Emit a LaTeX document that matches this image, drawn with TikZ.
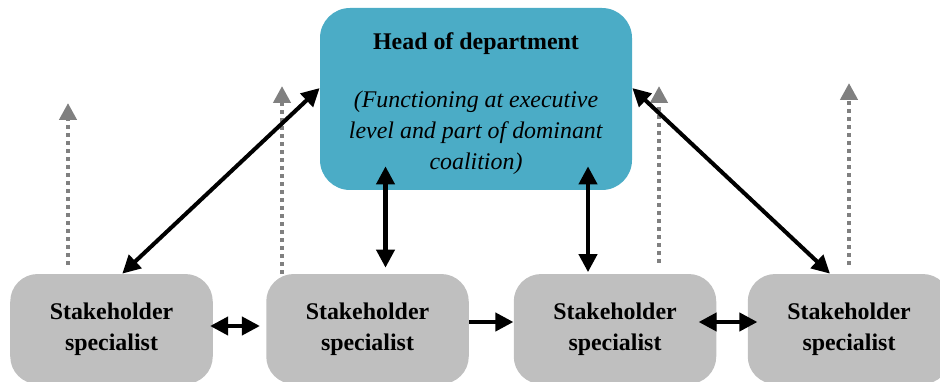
\documentclass[tikz,border=0pt]{standalone}
\usepackage{fontspec}
\setmainfont{Liberation Serif}
\usetikzlibrary{arrows.meta,positioning,calc}
\definecolor{headblue}{RGB}{75,172,198}
\definecolor{boxgray}{RGB}{191,191,191}
\definecolor{linkgray}{RGB}{128,128,128}

\begin{document}
\begin{tikzpicture}[>={Triangle[length=0.36cm,width=0.36cm]}]
				\tikzstyle{every node}=[font=\fontsize{13.6}{17.5}\selectfont]
				\tikzstyle{staff}=[rectangle, rounded corners=0.55cm, fill=boxgray, minimum width=4.05cm, minimum height=2.2cm, align=center, font=\fontsize{13.6}{17.5}\selectfont\bfseries]
				\tikzstyle{chief}=[rectangle, rounded corners=0.6cm, fill=headblue, minimum width=6.24cm, minimum height=3.64cm]
				\tikzstyle{link}=[<->, line width=2.3pt]
				\tikzstyle{upflow}=[-{Triangle[length=0.34cm,width=0.34cm]}, draw=linkgray, line width=2.4pt, dash pattern=on 0.07cm off 0.09cm]
				\useasboundingbox (0,0) rectangle (18.8,7.62);
				\clip (0,0) rectangle (18.8,7.62);
				%Head
				\node[chief](head) at (9.52,5.64){};
				\node[align=center](headtext) at ([yshift=-0.09cm]head.center){\textbf{Head of department}\\[15.5pt]\textit{(Functioning at executive}\\[0.3pt]\textit{level and part of dominant}\\[0.3pt]\textit{coalition)}};
				%Bottom Row
				\node[staff](s1) at (2.23,1.04){Stakeholder\\specialist};
				\node[staff](s2) at (7.35,1.04){Stakeholder\\specialist};
				\node[staff](s3) at (12.3,1.04){Stakeholder\\specialist};
				\node[staff](s4) at (16.98,1.04){Stakeholder\\specialist};
				%Upward links
				\coordinate (top1) at (1.36,5.56);
				\coordinate (top2) at (5.64,5.90);
				\coordinate (top3) at (13.18,5.90);
				\coordinate (top4) at (16.98,5.96);
				\draw[upflow] ([yshift=0.18cm]s1.north -| top1) -- (top1);
				\draw[upflow] (s2.north -| top2) -- (top2);
				\draw[upflow] ([yshift=0.22cm]s3.north -| top3) -- (top3);
				\draw[upflow] ([yshift=0.18cm]s4.north -| top4) -- (top4);
				%Links to head
				\draw[link] (s1.79) -- (head.176);
				\draw[link] (head.4) -- (s4.109);
				\draw[link, shorten <=0.12cm, shorten >=-0.48cm] ([xshift=0.36cm]s2.north) -- ([xshift=0.36cm]s2.north |- head.south);
				\draw[link, shorten <=0.03cm, shorten >=-0.48cm] ([xshift=-0.54cm]s3.north) -- ([xshift=-0.54cm]s3.north |- head.south);
				%Links in the row
				\draw[link, shorten <=-0.06cm, shorten >=0.12cm] ([yshift=0.06cm]s1.east) -- ([yshift=0.06cm]s2.west);
				\draw[->, line width=2.3pt] ([yshift=0.14cm]s2.east) -- ([yshift=0.14cm]s3.west);
				\draw[link, shorten <=-0.36cm, shorten >=-0.2cm] ([yshift=0.14cm]s3.east) -- ([yshift=0.14cm]s4.west);
\end{tikzpicture}
\end{document}
